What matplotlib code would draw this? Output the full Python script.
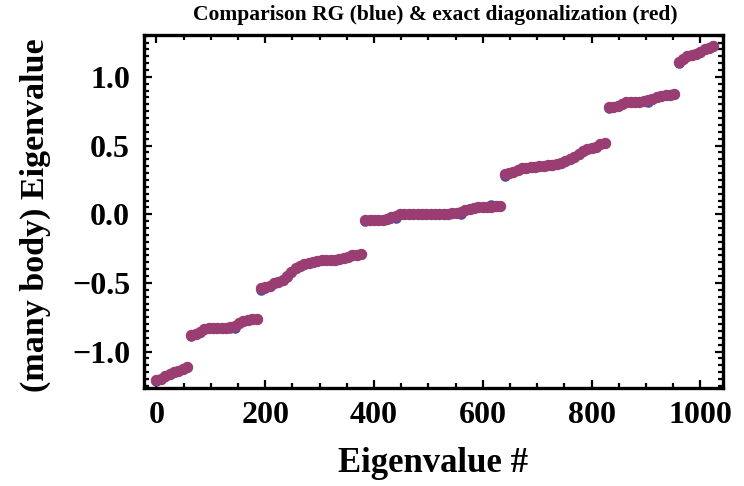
import matplotlib
matplotlib.use("Agg")
import matplotlib.pyplot as plt
from matplotlib.ticker import MultipleLocator

# eigenvalue index (sampled every 8 levels)
index = list(range(0, 1024, 8)) + [1023]

# exact diagonalization (red series)
exact = [
    # 0..56
    -1.21, -1.20, -1.18, -1.16, -1.15, -1.14, -1.13, -1.11,
    # 64..184
    -0.88, -0.875, -0.86, -0.835, -0.83, -0.83, -0.83, -0.825,
    -0.825, -0.82, -0.815, -0.79, -0.775, -0.77, -0.765, -0.76,
    # 192..376
    -0.54, -0.53, -0.52, -0.50, -0.49, -0.48, -0.45, -0.42,
    -0.39, -0.375, -0.365, -0.355, -0.345, -0.34, -0.335, -0.335,
    -0.33, -0.33, -0.325, -0.32, -0.31, -0.30, -0.295, -0.29,
    # 384..632
    -0.045, -0.045, -0.04, -0.04, -0.04, -0.035, -0.02, -0.01,
    0.0, 0.0, 0.0, 0.0, 0.0, 0.0, 0.0, 0.0,
    0.0, 0.0, 0.005, 0.005, 0.01, 0.01, 0.02, 0.03,
    0.04, 0.045, 0.05, 0.05, 0.055, 0.055, 0.06, 0.06,
    # 640..824
    0.29, 0.30, 0.31, 0.32, 0.335, 0.34, 0.345, 0.345,
    0.35, 0.35, 0.355, 0.36, 0.365, 0.375, 0.385, 0.40,
    0.42, 0.44, 0.46, 0.475, 0.48, 0.49, 0.51, 0.52,
    # 832..952
    0.78, 0.78, 0.79, 0.80, 0.815, 0.82, 0.82, 0.82,
    0.825, 0.83, 0.84, 0.85, 0.86, 0.865, 0.87, 0.875,
    # 960..1023
    1.11, 1.13, 1.15, 1.16, 1.17, 1.18, 1.20, 1.21, 1.225,
]

# RG approximation (blue series)
rg = [
    -1.215, -1.20, -1.18, -1.16, -1.15, -1.14, -1.13, -1.115,
    -0.885, -0.875, -0.86, -0.835, -0.83, -0.83, -0.83, -0.825,
    -0.825, -0.83, -0.83, -0.79, -0.775, -0.77, -0.765, -0.76,
    -0.55, -0.535, -0.52, -0.50, -0.49, -0.48, -0.46, -0.42,
    -0.39, -0.375, -0.365, -0.355, -0.345, -0.34, -0.335, -0.335,
    -0.33, -0.33, -0.325, -0.32, -0.31, -0.30, -0.295, -0.29,
    -0.05, -0.045, -0.04, -0.04, -0.04, -0.035, -0.03, -0.03,
    0.0, 0.0, 0.0, 0.0, 0.0, 0.0, 0.0, 0.0,
    0.0, 0.0, 0.005, 0.005, 0.01, 0.01, 0.005, 0.03,
    0.04, 0.045, 0.05, 0.05, 0.055, 0.07, 0.06, 0.06,
    0.275, 0.30, 0.31, 0.32, 0.335, 0.34, 0.345, 0.345,
    0.35, 0.35, 0.355, 0.36, 0.365, 0.375, 0.385, 0.40,
    0.42, 0.44, 0.46, 0.475, 0.48, 0.49, 0.51, 0.52,
    0.775, 0.78, 0.79, 0.80, 0.815, 0.82, 0.82, 0.82,
    0.825, 0.815, 0.84, 0.85, 0.86, 0.865, 0.87, 0.875,
    1.10, 1.13, 1.15, 1.16, 1.17, 1.18, 1.20, 1.21, 1.225,
]

title = "Comparison RG (blue) & exact diagonalization (red)"
xlabel = "Eigenvalue #"
ylabel = "(many body) Eigenvalue"
xticks = [0, 200, 400, 600, 800, 1000]
yticks = [-1.0, -0.5, 0.0, 0.5, 1.0]

serif = ["Liberation Serif", "DejaVu Serif"]

fig = plt.figure(figsize=(7.44, 4.86), dpi=100)
ax = fig.add_axes([0.1935, 0.2016, 0.7785, 0.7264])

ax.plot(index, rg, linestyle="none", marker="o", ms=7.6,
        color="#4a4aa8", mec="none", zorder=2)
ax.plot(index, exact, linestyle="none", marker="o", ms=8.2,
        color="#993d73", mec="none", zorder=3)

ax.set_xlim(-23, 1042)
ax.set_ylim(-1.265, 1.305)

ax.set_xticks(xticks)
ax.set_yticks(yticks)
ax.xaxis.set_minor_locator(MultipleLocator(50))
ax.yaxis.set_minor_locator(MultipleLocator(0.05))
ax.set_xticklabels([str(t) for t in xticks])
ax.set_yticklabels(["\u22121.0", "\u22120.5", "0.0", "0.5", "1.0"])

for s in ax.spines.values():
    s.set_linewidth(2.4)
ax.tick_params(which="both", direction="in", top=True, right=True,
               width=1.6, colors="black")
ax.tick_params(which="major", length=6)
ax.tick_params(which="minor", length=3.5)
ax.tick_params(axis="x", which="major", labelsize=23, pad=9)
ax.tick_params(axis="y", which="major", labelsize=23, pad=10)
for lab in ax.get_xticklabels() + ax.get_yticklabels():
    lab.set_family(serif)
    lab.set_fontweight("bold")

fig.text(433 / 744, 1 - 463 / 486, xlabel, ha="center", va="center",
         fontsize=25, family=serif, fontweight="bold")
fig.text(35 / 744, 1 - 215 / 486, ylabel, ha="center", va="center",
         rotation=90, fontsize=24.5, family=serif, fontweight="bold")
fig.text(435 / 744, 1 - 15 / 486, title, ha="center", va="center",
         fontsize=15.5, family=serif, fontweight="bold")

fig.savefig("out.png", dpi=100)
